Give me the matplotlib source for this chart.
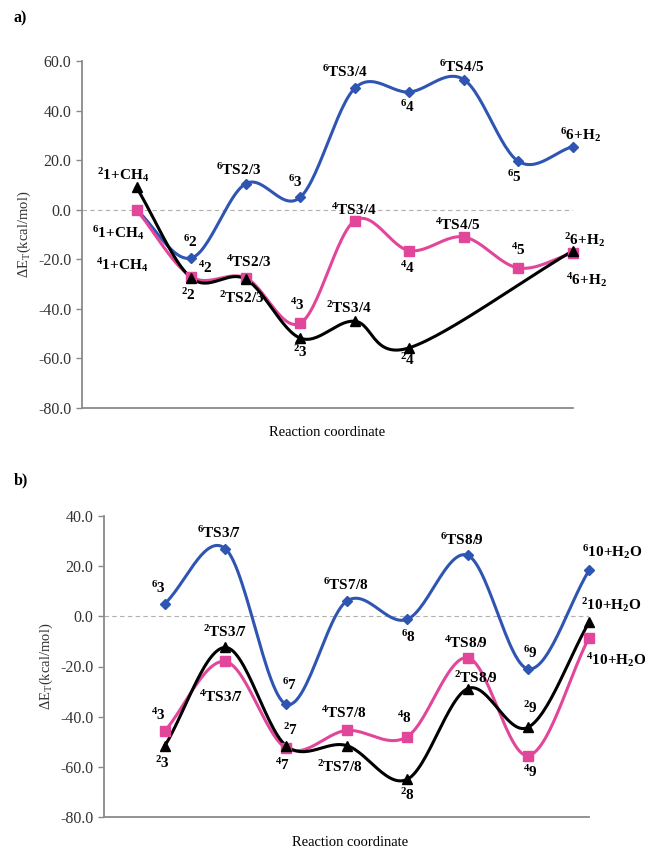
import numpy as np
import matplotlib
matplotlib.use('Agg')
import matplotlib.pyplot as plt

plt.rcParams['font.family'] = 'Liberation Serif'
plt.rcParams['mathtext.default'] = 'regular'

# ---- panel a data (kcal/mol) ----
a_blue_x = [1, 2, 3, 4, 5, 6, 7, 8, 9]
a_blue_y = [0.0, -19.5, 10.5, 5.0, 49.0, 47.5, 52.5, 19.5, 25.5]
a_pink_x = [1, 2, 3, 4, 5, 6, 7, 8, 9]
a_pink_y = [0.0, -27.0, -27.5, -45.8, -4.4, -16.5, -11.0, -23.5, -17.5]
a_black_x = [1, 2, 3, 4, 5, 6, 9]
a_black_y = [9.0, -27.5, -28.0, -51.8, -45.0, -55.7, -16.5]

# ---- panel b data (kcal/mol) ----
b_blue_x = [1, 2, 3, 4, 5, 6, 7, 8]
b_blue_y = [5.0, 27.0, -35.0, 6.0, -1.2, 24.3, -21.0, 18.3]
b_pink_y = [-45.8, -18.0, -52.5, -45.5, -48.0, -16.5, -55.5, -8.5]
b_black_y = [-51.8, -12.4, -51.5, -51.5, -65.0, -28.8, -44.2, -2.4]

# labels: text, x pixel, y pixel (figure coordinates of 645x850 picture)
a_labels = [
    ('$^{2}$1+CH$_{4}$', 123, 175), ('$^{6}$1+CH$_{4}$', 118, 233), ('$^{4}$1+CH$_{4}$', 122, 265),
    ('$^{6}$2', 190, 242), ('$^{4}$2', 205, 268), ('$^{2}$2', 188, 295),
    ('$^{6}$TS2/3', 239, 170), ('$^{4}$TS2/3', 249, 262), ('$^{2}$TS2/3', 242, 298),
    ('$^{6}$3', 295, 182), ('$^{4}$3', 297, 305), ('$^{2}$3', 300, 352),
    ('$^{6}$TS3/4', 345, 72), ('$^{4}$TS3/4', 354, 210), ('$^{2}$TS3/4', 349, 308),
    ('$^{6}$4', 408, 107), ('$^{4}$4', 408, 268), ('$^{2}$4', 408, 360),
    ('$^{6}$TS4/5', 462, 67), ('$^{4}$TS4/5', 458, 225),
    ('$^{6}$5', 514, 177), ('$^{4}$5', 518, 250),
    ('$^{6}$6+H$_{2}$', 580, 135), ('$^{2}$6+H$_{2}$', 584, 240), ('$^{4}$6+H$_{2}$', 586, 280),
]
b_labels = [
    ('$^{6}$3', 158, 588), ('$^{4}$3', 158, 715), ('$^{2}$3', 162, 763),
    ('$^{6}$TS3/7', 219, 533), ('$^{2}$TS3/7', 225, 632), ('$^{4}$TS3/7', 221, 697),
    ('$^{6}$7', 290, 685), ('$^{2}$7', 291, 730), ('$^{4}$7', 283, 765),
    ('$^{6}$TS7/8', 346, 585), ('$^{4}$TS7/8', 344, 713), ('$^{2}$TS7/8', 340, 767),
    ('$^{6}$8', 408, 637), ('$^{4}$8', 404, 718), ('$^{2}$8', 407, 795),
    ('$^{6}$TS8/9', 462, 540), ('$^{4}$TS8/9', 466, 643), ('$^{2}$TS8/9', 476, 678),
    ('$^{6}$9', 530, 653), ('$^{2}$9', 530, 708), ('$^{4}$9', 530, 772),
    ('$^{6}$10+H$_{2}$O', 612, 552), ('$^{2}$10+H$_{2}$O', 611, 605), ('$^{4}$10+H$_{2}$O', 616, 660),
]

BLUE = '#2f55b3'
PINK = '#e2469a'
BLACK = '#000000'
W, H = 645, 850


def smooth(x, y, n=30):
    # excel-like smoothed line (catmull-rom through the points)
    x = np.asarray(x, float)
    y = np.asarray(y, float)
    px = np.concatenate([[2 * x[0] - x[1]], x, [2 * x[-1] - x[-2]]])
    py = np.concatenate([[2 * y[0] - y[1]], y, [2 * y[-1] - y[-2]]])
    xs, ys = [], []
    t = np.linspace(0, 1, n)
    for i in range(1, len(px) - 2):
        p0, p1, p2, p3 = [np.array([px[j], py[j]]) for j in (i - 1, i, i + 1, i + 2)]
        c1 = p1 + (p2 - p0) / 6
        c2 = p2 - (p3 - p1) / 6
        b = ((1 - t) ** 3)[:, None] * p1 + (3 * (1 - t) ** 2 * t)[:, None] * c1 \
            + (3 * (1 - t) * t ** 2)[:, None] * c2 + (t ** 3)[:, None] * p2
        xs.extend(b[:, 0])
        ys.extend(b[:, 1])
    return xs, ys


def draw(ax, x, y, color, marker, ms):
    sx, sy = smooth(x, y)
    ax.plot(sx, sy, color=color, lw=2.2, zorder=3, clip_on=False)
    ax.plot(x, y, ls='none', marker=marker, color=color, ms=ms, zorder=4, clip_on=False)


def style(ax, ylim, yticks):
    ax.set_ylim(ylim)
    ax.set_yticks(yticks)
    ax.set_yticklabels(['%.1f' % v for v in yticks], fontsize=11.5, color='#333333')
    ax.set_xticks([])
    for s in ['top', 'right']:
        ax.spines[s].set_visible(False)
    for s in ['left', 'bottom']:
        ax.spines[s].set_color('#8a8a8a')
        ax.spines[s].set_linewidth(1.3)
    ax.tick_params(axis='y', direction='out', length=4, color='#8a8a8a', width=1)
    ax.axhline(0, color='#b0b0b0', lw=0.8, ls=(0, (4, 3)), zorder=1)
    ax.set_ylabel('ΔE$_{T}$(kcal/mol)', fontsize=10.5, color='#333333', labelpad=4)


fig = plt.figure(figsize=(6.45, 8.5), dpi=100)

ax1 = fig.add_axes([82 / W, 1 - 408 / H, 491 / W, 347 / H])
ax1.set_xlim(0, 9)
style(ax1, (-80, 60), [60, 40, 20, 0, -20, -40, -60, -80])
draw(ax1, a_blue_x, a_blue_y, BLUE, 'D', 5)
draw(ax1, a_pink_x, a_pink_y, PINK, 's', 6.5)
draw(ax1, a_black_x, a_black_y, BLACK, '^', 6.5)

ax2 = fig.add_axes([104 / W, 1 - 817 / H, 485 / W, 301 / H])
ax2.set_xlim(0, 8)
style(ax2, (-80, 40), [40, 20, 0, -20, -40, -60, -80])
draw(ax2, b_blue_x, b_blue_y, BLUE, 'D', 5)
draw(ax2, b_blue_x, b_pink_y, PINK, 's', 6.5)
draw(ax2, b_blue_x, b_black_y, BLACK, '^', 6.5)

fig.text(327 / W, 1 - 433 / H, 'Reaction coordinate', ha='center', va='center', fontsize=10.5)
fig.text(350 / W, 1 - 843 / H, 'Reaction coordinate', ha='center', va='center', fontsize=10.5)
fig.text(14 / W, 1 - 18 / H, 'a)', ha='left', va='center', fontsize=11.5, fontweight='bold')
fig.text(14 / W, 1 - 480 / H, 'b)', ha='left', va='center', fontsize=11.5, fontweight='bold')

for txt, px, py in a_labels + b_labels:
    fig.text(px / W, 1 - py / H, txt, ha='center', va='center', fontsize=11, fontweight='bold')

fig.savefig('out.png', dpi=100)
